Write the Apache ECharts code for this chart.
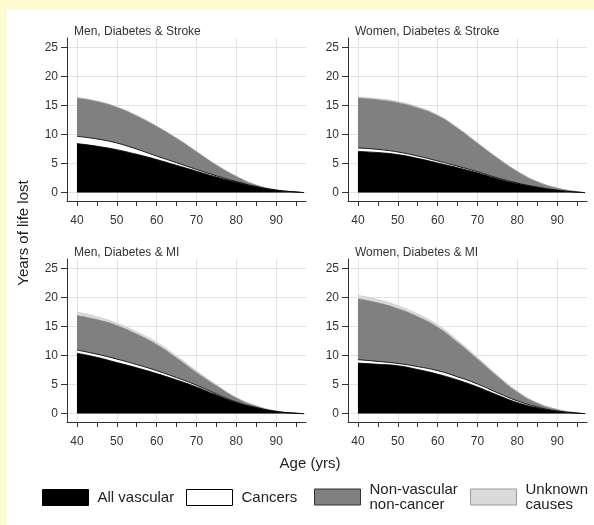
<!DOCTYPE html>
<html>
<head>
<meta charset="utf-8">
<script src="https://cdn.jsdelivr.net/npm/echarts@6/dist/echarts.min.js"></script>
<style>
html,body{margin:0;padding:0;width:594px;height:525px;overflow:hidden;background:#fdfcd0;}
#paper{position:absolute;left:7px;top:10px;right:0;bottom:0;background:#ffffff;}
#chart{position:absolute;left:0;top:0;width:594px;height:525px;}
</style>
</head>
<body>
<div id="paper"></div>
<div id="chart"></div>
<script>
// Ages (x values)
const ages = [40,45,50,55,60,65,70,75,80,85,90,95,97];
// Panel titles
const panelTitles = ['Men, Diabetes & Stroke','Women, Diabetes & Stroke','Men, Diabetes & MI','Women, Diabetes & MI'];
// Cause names (legend)
const causes = ['All vascular','Cancers','Non-vascular\nnon-cancer','Unknown\ncauses'];
// Tick values
const yTicks = [0,5,10,15,20,25];
const xMajor = [40,50,60,70,80,90];
const xMinor = [40,45,50,55,60,65,70,75,80,85,90,95];

// Men, Diabetes & Stroke (years of life lost per cause)
const vascMS = [8.45,8.0,7.4,6.6,5.7,4.7,3.7,2.7,1.8,1.0,0.4,0.1,0];
const cancMS = [1.25,1.25,1.15,0.9,0.6,0.45,0.3,0.2,0.1,0.05,0.02,0,0];
const nonvMS = [6.6,6.45,6.15,5.7,5.1,4.2,3.05,1.85,0.9,0.25,0.08,0,0];
const unknMS = [0.1,0.1,0.1,0.1,0.08,0.06,0.05,0.03,0.02,0.01,0,0,0];
// Women, Diabetes & Stroke
const vascWS = [7.1,6.9,6.55,5.9,5.1,4.3,3.4,2.4,1.55,0.9,0.4,0.08,0];
const cancWS = [0.6,0.55,0.45,0.4,0.35,0.25,0.2,0.15,0.1,0.05,0.02,0,0];
const nonvWS = [8.6,8.55,8.5,8.3,7.8,6.55,4.9,3.4,2.0,0.93,0.37,0.07,0];
const unknWS = [0.2,0.2,0.2,0.18,0.15,0.12,0.1,0.07,0.05,0.02,0.01,0,0];
// Men, Diabetes & MI
const vascMM = [10.4,9.7,8.8,7.9,6.9,5.8,4.6,3.2,1.9,1.0,0.35,0.05,0];
const cancMM = [0.55,0.55,0.6,0.55,0.5,0.4,0.3,0.2,0.1,0.05,0.02,0,0];
const nonvMM = [5.95,5.95,5.8,5.25,4.5,3.4,2.2,1.4,0.7,0.25,0.08,0.03,0];
const unknMM = [0.6,0.5,0.4,0.4,0.4,0.35,0.3,0.2,0.1,0.05,0.02,0,0];
// Women, Diabetes & MI
const vascWM = [8.7,8.5,8.25,7.6,6.8,5.8,4.6,3.2,1.9,1.0,0.4,0.07,0];
const cancWM = [0.6,0.5,0.4,0.5,0.6,0.55,0.5,0.4,0.3,0.15,0.05,0.01,0];
const nonvWM = [10.5,10.1,9.45,8.6,7.5,5.95,4.3,2.8,1.5,0.65,0.25,0.04,0];
const unknWM = [0.6,0.55,0.5,0.45,0.4,0.35,0.3,0.25,0.2,0.1,0.05,0.01,0];

const panels = [
  [vascMS,cancMS,nonvMS,unknMS],
  [vascWS,cancWS,nonvWS,unknWS],
  [vascMM,cancMM,nonvMM,unknMM],
  [vascWM,cancWM,nonvWM,unknWM]
];

const FONT = 'Liberation Sans, Arial, sans-serif';
const fills = ['#000000','#ffffff','#808080','#dadada'];
const lines = [
  {width:0.8,color:'#000000'},
  {width:1,color:'#1a1a1a'},
  {width:0.6,color:'#8a8a8a'},
  {width:0.6,color:'#c4c4c4'}
];
const gridPos = [
  {left:67, top:38},
  {left:348, top:38},
  {left:67, top:259},
  {left:348, top:259}
];

const grids = [], xAxes = [], yAxes = [], series = [], titles = [];
gridPos.forEach((g,i)=>{
  grids.push({left:g.left, top:g.top, width:239, height:163, containLabel:false});
  // main x axis: line, ticks, labels
  xAxes.push({
    type:'value', gridIndex:i, min:37.5, max:97.5, position:'bottom',
    axisLine:{show:true, onZero:false, lineStyle:{color:'#333', width:1}},
    axisTick:{show:true, length:5, customValues:xMinor, lineStyle:{color:'#333'}},
    axisLabel:{show:true, customValues:xMajor, margin:14, color:'#333', fontSize:12, fontFamily:FONT},
    splitLine:{show:false}
  });
  // helper x axis for vertical grid lines at the labelled ages
  xAxes.push({
    type:'value', gridIndex:i, min:37.5, max:97.5, position:'bottom',
    axisLine:{show:false, onZero:false}, axisTick:{show:false, customValues:xMajor},
    axisLabel:{show:false, customValues:xMajor},
    splitLine:{show:true, lineStyle:{color:'#e3e3e3', width:1}}
  });
  yAxes.push({
    type:'value', gridIndex:i, min:-1.45, max:26.65,
    axisLine:{show:true, onZero:false, lineStyle:{color:'#333', width:1}},
    axisTick:{show:true, length:6, customValues:yTicks, lineStyle:{color:'#333'}},
    axisLabel:{show:true, customValues:yTicks, margin:9, color:'#333', fontSize:12, fontFamily:FONT},
    splitLine:{show:true, lineStyle:{color:'#e3e3e3', width:1}}
  });
  titles.push({
    text: panelTitles[i], left: g.left+2, top: g.top-17,
    textStyle:{fontSize:12, fontWeight:'normal', color:'#333', fontFamily:FONT}
  });
  // cumulative layers built from the component arrays; drawn from the top layer down,
  // each filled to zero so that later (lower) layers overlay earlier ones
  const comps = panels[i];
  const cum = comps.map((_,k)=>ages.map((a,j)=>{
    let s = 0; for(let m=0;m<=k;m++) s += comps[m][j]; return s;
  }));
  for(let k=3;k>=0;k--){
    series.push({
      type:'line', name:causes[k], xAxisIndex:i*2, yAxisIndex:i,
      data: ages.map((a,j)=>[a, +cum[k][j].toFixed(3)]),
      symbol:'none', smooth:0.5,
      lineStyle: lines[k],
      itemStyle:{color:fills[k]},
      areaStyle:{color:fills[k], opacity:1, origin:0},
      silent:true, animation:false
    });
  }
});

const legendDefs = [
  {left:42, top:489, fill:'#000000', border:'#000000'},
  {left:186, top:489, fill:'#ffffff', border:'#000000'},
  {left:314, top:482, fill:'#808080', border:'#333333'},
  {left:470, top:482, fill:'#dadada', border:'#9a9a9a'}
];
const legends = legendDefs.map((d,k)=>({
  left:d.left, top:d.top, padding:0, icon:'rect', itemWidth:46, itemHeight:16, itemGap:0,
  selectedMode:false,
  data:[{name:causes[k], icon:'rect', itemStyle:{color:d.fill, borderColor:d.border, borderWidth:1}}],
  textStyle:{fontSize:15, color:'#222', fontFamily:FONT, lineHeight:15, padding:[0,0,0,4]}
}));

const chart = echarts.init(document.getElementById('chart'), null, {renderer:'canvas', width:594, height:525});
chart.setOption({
  backgroundColor:'transparent',
  animation:false,
  title: titles,
  grid: grids,
  xAxis: xAxes,
  yAxis: yAxes,
  legend: legends,
  series: series,
  graphic: [
    {type:'text', x:24, y:233, rotation:Math.PI/2, style:{text:'Years of life lost', font:'15px '+FONT, fill:'#222', align:'center', verticalAlign:'middle'}},
    {type:'text', x:310, y:464, style:{text:'Age (yrs)', font:'15px '+FONT, fill:'#222', align:'center', verticalAlign:'middle'}}
  ]
});
</script>
</body>
</html>
